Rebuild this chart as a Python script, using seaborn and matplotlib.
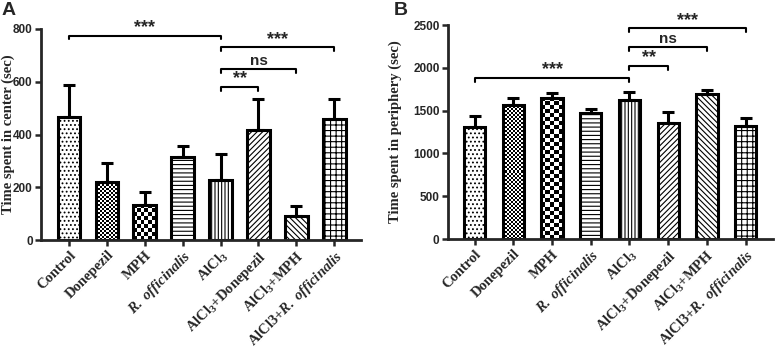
import numpy as np
import pandas as pd
import matplotlib
matplotlib.use("Agg")
import matplotlib.pyplot as plt
import seaborn as sns

sns.set_style("ticks")
plt.rcParams["font.family"] = ["Liberation Sans", "DejaVu Sans"]
plt.rcParams["mathtext.fontset"] = "custom"
plt.rcParams["mathtext.rm"] = "Liberation Serif:bold"
plt.rcParams["mathtext.it"] = "Liberation Serif:bold:italic"
plt.rcParams["mathtext.bf"] = "Liberation Serif:bold"
plt.rcParams["hatch.linewidth"] = 0.8

# --- data ---
groups = ["Control", "Donepezil", "MPH", r"$\mathit{R.\ officinalis}$", r"AlCl$_3$",
          r"AlCl$_3$+Donepezil", r"AlCl$_3$+MPH", r"AlCl3+$\mathit{R.\ officinalis}$"]
center_mean = [468, 219, 134, 314, 226, 418, 93, 458]
center_err = [121, 73, 50, 42, 101, 115, 36, 76]
periph_mean = [1314, 1567, 1652, 1470, 1625, 1361, 1691, 1326]
periph_err = [128, 78, 59, 50, 90, 120, 51, 85]
hatches = ["....", None, None, "----", "|||||", "//////", "\\\\\\\\\\\\", "+++"]
checker_px = {1: 2.0, 2: 4.0}   # bars filled with a checkerboard, cell size in px

# brackets: (start idx, end idx, y, label)
center_brackets = [(0, 4, 775, "***"), (4, 7, 730, "***"), (4, 6, 649, "ns"), (4, 5, 580, "**")]
periph_brackets = [(4, 7, 2461, "***"), (4, 6, 2247, "ns"), (4, 5, 2022, "**"), (0, 4, 1886, "***")]

fig = plt.figure(figsize=(7.75, 3.49), dpi=100)
ax_a = fig.add_axes([0.053, 0.312, 0.413, 0.605])
ax_b = fig.add_axes([0.578, 0.315, 0.420, 0.613])


def checker_fill(ax, patch, cell):
    # checkerboard image clipped to the bar
    x0, y0 = patch.get_x(), patch.get_y()
    x1, y1 = x0 + patch.get_width(), y0 + patch.get_height()
    (px0, py0), (px1, py1) = ax.transData.transform([(x0, y0), (x1, y1)])
    nx = max(1, int(round((px1 - px0) / cell)))
    ny = max(1, int(round((py1 - py0) / cell)))
    board = (np.add.outer(np.arange(ny), np.arange(nx)) % 2).astype(float)
    im = ax.imshow(board, cmap="gray", vmin=0, vmax=1, extent=(x0, x1, y0, y1),
                   aspect="auto", interpolation="nearest", zorder=patch.get_zorder() - 0.1)
    im.set_clip_path(patch)


def draw_panel(ax, means, errs, brackets, ylim, yticks, ylabel, tick_drop, xlim, width, label_x):
    df = pd.DataFrame({"group": groups, "value": means})
    sns.barplot(data=df, x="group", y="value", hue="group", palette=["white"] * 8,
                edgecolor="black", linewidth=2.2, width=width, errorbar=None,
                legend=False, ax=ax)
    x = np.arange(len(groups))
    ax.errorbar(x, means, yerr=[np.zeros(len(errs)), errs], fmt="none",
                ecolor="black", elinewidth=2.2, capsize=4.5, capthick=2.2, zorder=1)
    for i0, i1, y, lab in brackets:
        ax.plot([i0, i0, i1, i1], [y - tick_drop, y, y, y - tick_drop],
                color="black", lw=1.5, clip_on=False)
        ax.text((i0 + i1) / 2, y + tick_drop * (0.1 if lab == "ns" else -0.1), lab,
                ha="center", va="bottom", fontsize=11 if lab == "ns" else 13,
                fontweight="bold", clip_on=False)
    ax.set_ylim(*ylim)
    ax.set_yticks(yticks)
    ax.set_xlim(*xlim)
    ax.set_xlabel("")
    ax.set_ylabel(ylabel, family="Liberation Serif", fontweight="bold", fontsize=10.5)
    ax.yaxis.set_label_coords(label_x, 0.5)
    ax.set_xticks(x)
    ax.set_xticklabels(groups, rotation=45, ha="right", rotation_mode="anchor",
                       family="Liberation Serif", fontweight="bold", fontsize=10.5)
    for lbl in ax.get_yticklabels():
        lbl.set_fontweight("bold")
        lbl.set_fontsize(8.5)
    ax.tick_params(axis="both", width=1.8, length=4, pad=2)
    sns.despine(ax=ax)
    for s in ["left", "bottom"]:
        ax.spines[s].set_linewidth(2)
    bars = list(ax.patches)[:len(groups)]
    for i, patch in enumerate(bars):
        if hatches[i]:
            patch.set_hatch(hatches[i])
        if i in checker_px:
            patch.set_facecolor("none")
            checker_fill(ax, patch, checker_px[i])
    ax.set_xlim(*xlim)
    ax.set_ylim(*ylim)


draw_panel(ax_a, center_mean, center_err, center_brackets, (0, 800),
           [0, 200, 400, 600, 800], "Time spent in center (sec)", 14, (-0.74, 7.71), 0.6, -0.083)
draw_panel(ax_b, periph_mean, periph_err, periph_brackets, (0, 2500),
           [0, 500, 1000, 1500, 2000, 2500], "Time spent in periphery (sec)", 45, (-0.69, 7.72), 0.55, -0.14)

fig.text(0.002, 0.995, "A", fontsize=14, fontweight="bold", va="top", ha="left")
fig.text(0.508, 0.995, "B", fontsize=14, fontweight="bold", va="top", ha="left")

fig.savefig("out.png", dpi=100)
